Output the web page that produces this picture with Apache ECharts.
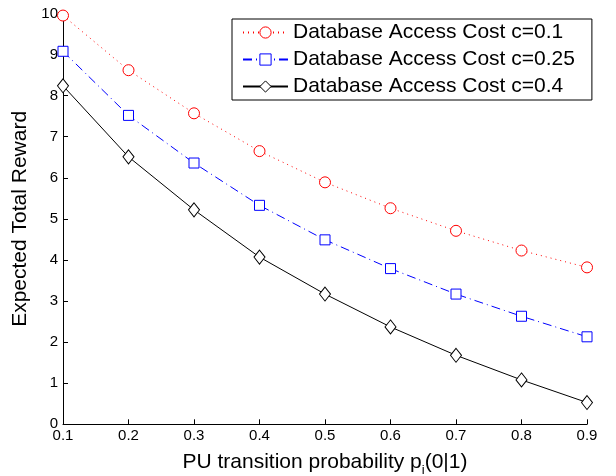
<!DOCTYPE html>
<html>
<head>
<meta charset="utf-8">
<script src="https://cdn.jsdelivr.net/npm/echarts@6/dist/echarts.min.js"></script>
<style>
  html, body { margin: 0; padding: 0; background: #fff; }
  #chart { width: 616px; height: 476px; }
</style>
</head>
<body>
<div id="chart"></div>
<script>
// x axis categories (PU transition probability)
const probLabels = ['0.1', '0.2', '0.3', '0.4', '0.5', '0.6', '0.7', '0.8', '0.9'];
// expected total reward for each database access cost
const rewardC010 = [9.95, 8.62, 7.57, 6.65, 5.89, 5.26, 4.71, 4.23, 3.82];
const rewardC025 = [9.08, 7.52, 6.36, 5.33, 4.49, 3.79, 3.17, 2.63, 2.13];
const rewardC040 = [8.24, 6.51, 5.22, 4.07, 3.17, 2.37, 1.68, 1.08, 0.53];
const seriesNames = [
    'Database Access Cost c=0.1',
    'Database Access Cost c=0.25',
    'Database Access Cost c=0.4'
];

const font = "'Liberation Sans', Arial, sans-serif";

let chart = echarts.init(document.getElementById('chart'));

// hollow marker: white fill, thin coloured border
function hollow(color) {
    return { color: '#fff', borderColor: color, borderWidth: 1 };
}

let option = {
    backgroundColor: '#fff',
    animation: false,
    textStyle: { fontFamily: font },
    // outerBoundsMode none: keep the plot box exactly where the reference has it
    grid: { left: 63, right: 29, top: 13.5, bottom: 51.7, outerBoundsMode: 'none' },
    legend: {
        orient: 'vertical',
        left: 232,
        top: 19,
        padding: [3, 17, 3, 10],
        itemWidth: 45,
        itemHeight: 14,
        itemGap: 6,
        itemStyle: { borderWidth: 1 },
        borderColor: '#000',
        borderWidth: 1,
        borderRadius: 0,
        backgroundColor: '#fff',
        textStyle: { fontSize: 21, color: '#000', fontFamily: font },
        data: seriesNames
    },
    xAxis: {
        type: 'category',
        data: probLabels,
        boundaryGap: false,
        name: 'PU transition probability p{sub|i}(0|1)',
        nameLocation: 'middle',
        nameGap: 23,
        nameTextStyle: {
            fontSize: 21, color: '#000', fontFamily: font,
            rich: {
                sub: { fontSize: 13, lineHeight: 30, verticalAlign: 'bottom', fontFamily: font, color: '#000' }
            }
        },
        axisLine: { lineStyle: { color: '#000', width: 1 } },
        axisTick: { inside: true, length: 5, alignWithLabel: true, lineStyle: { color: '#000' } },
        axisLabel: { fontSize: 15, color: '#000', margin: 4, fontFamily: font },
        splitLine: { show: false }
    },
    yAxis: {
        type: 'value',
        min: 0,
        max: 10,
        interval: 1,
        name: 'Expected Total Reward',
        nameLocation: 'middle',
        nameGap: 27,
        nameTextStyle: { fontSize: 21, color: '#000', fontFamily: font },
        axisLine: { show: true, lineStyle: { color: '#000', width: 1 } },
        axisTick: { show: true, inside: true, length: 5, lineStyle: { color: '#000' } },
        axisLabel: { fontSize: 15, color: '#000', margin: 5, fontFamily: font },
        splitLine: { show: false }
    },
    series: [
        {
            name: seriesNames[0],
            type: 'line',
            data: rewardC010,
            clip: false,
            symbol: 'circle',
            symbolSize: 11,
            lineStyle: { color: '#ff0000', width: 1, type: [1, 4] },
            itemStyle: hollow('#ff0000')
        },
        {
            name: seriesNames[1],
            type: 'line',
            data: rewardC025,
            clip: false,
            symbol: 'rect',
            symbolSize: 10,
            lineStyle: { color: '#0000ff', width: 1, type: [9, 4, 1, 4] },
            itemStyle: hollow('#0000ff')
        },
        {
            name: seriesNames[2],
            type: 'line',
            data: rewardC040,
            clip: false,
            symbol: 'diamond',
            symbolSize: [11, 14],
            lineStyle: { color: '#000', width: 1, type: 'solid' },
            itemStyle: hollow('#000')
        }
    ]
};

chart.setOption(option);
</script>
</body>
</html>
